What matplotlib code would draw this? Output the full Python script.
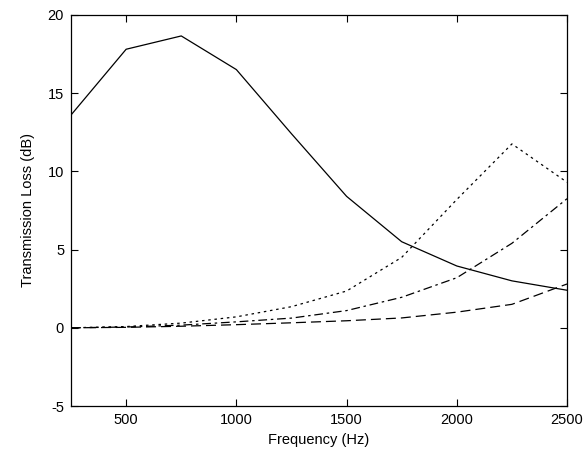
import matplotlib
matplotlib.use('Agg')
import matplotlib.pyplot as plt

freq = [250, 500, 750, 1000, 1250, 1500, 1750, 2000, 2250, 2500]
tl_solid = [13.6, 17.8, 18.65, 16.5, 12.4, 8.4, 5.5, 3.95, 3.0, 2.4]
tl_dotted = [0.0, 0.08, 0.3, 0.7, 1.35, 2.35, 4.5, 8.2, 11.75, 9.3]
tl_dashdot = [0.0, 0.05, 0.17, 0.38, 0.62, 1.1, 1.95, 3.2, 5.4, 8.25]
tl_dashed = [0.0, 0.03, 0.1, 0.2, 0.32, 0.45, 0.63, 1.0, 1.5, 2.8]

plt.rcParams['font.family'] = ['Liberation Sans', 'DejaVu Sans']
plt.rcParams['axes.unicode_minus'] = False

fig = plt.figure(figsize=(5.87, 4.63), dpi=100)
ax = fig.add_axes([0.121, 0.123, 0.845, 0.845])

ax.plot(freq, tl_solid, color='black', lw=0.9, ls='-')
ax.plot(freq, tl_dotted, color='black', lw=0.9, ls=(0, (2, 3)))
ax.plot(freq, tl_dashdot, color='black', lw=0.9, ls=(0, (7, 3, 2, 3)))
ax.plot(freq, tl_dashed, color='black', lw=0.9, ls=(0, (8, 4)))

ax.set_xlim(250, 2500)
ax.set_ylim(-5, 20)
ax.set_xticks([500, 1000, 1500, 2000, 2500])
ax.set_yticks([-5, 0, 5, 10, 15, 20])
ax.tick_params(direction='in', top=True, right=True, length=5, width=0.8,
               labelsize=10.5, pad=5)
for s in ax.spines.values():
    s.set_linewidth(0.9)

ax.set_xlabel('Frequency (Hz)', fontsize=10.5, labelpad=4)
ax.set_ylabel('Transmission Loss (dB)', fontsize=10.5, labelpad=9)

fig.savefig('out.png', dpi=100)
